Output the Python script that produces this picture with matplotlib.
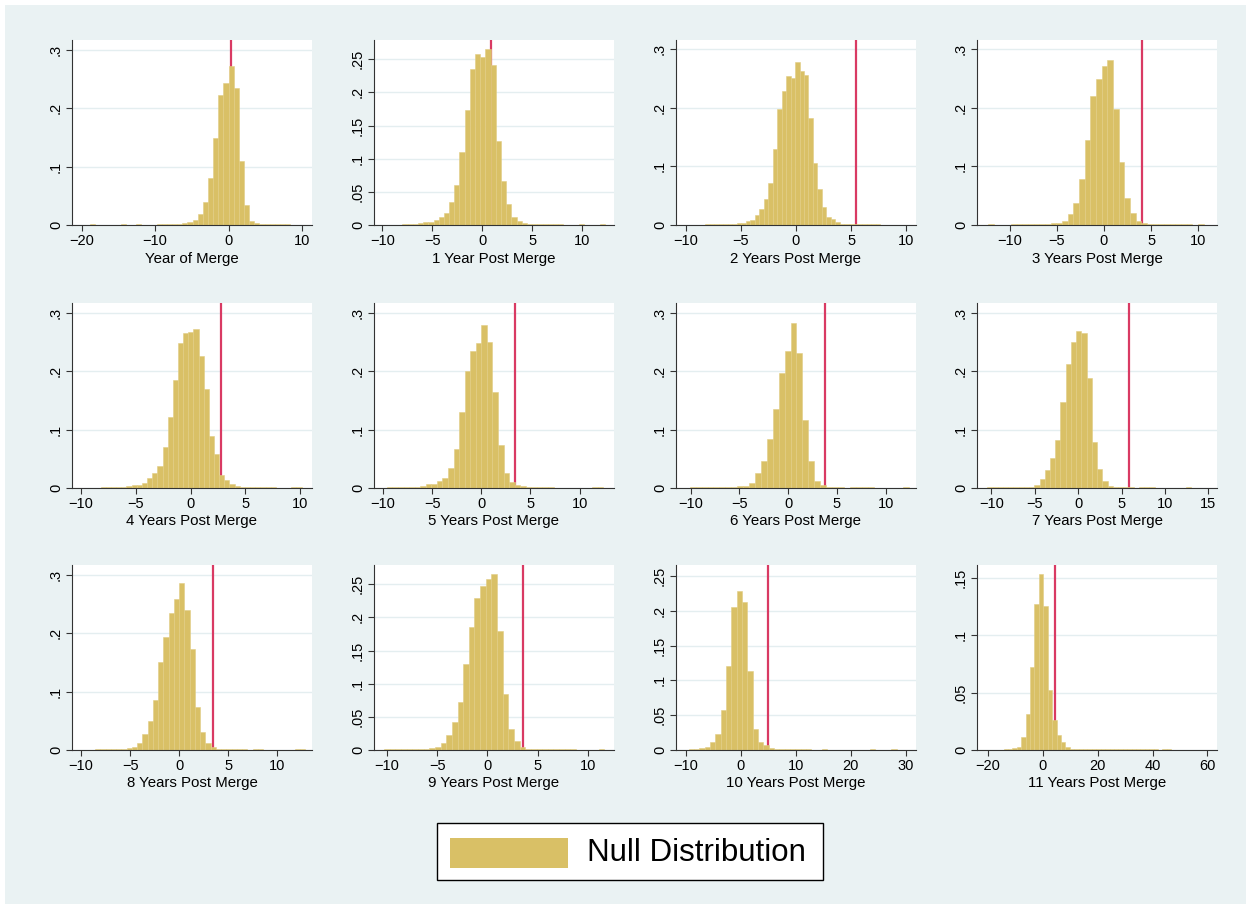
import numpy as np
import matplotlib
matplotlib.use("Agg")
import matplotlib.pyplot as plt
import matplotlib.patches as mpatches

plt.rcParams["font.family"] = ["Liberation Sans", "DejaVu Sans"]

# ── Data: histogram densities ─────────────────────────────────────────────────
LABELS = ["Year of Merge", "1 Year Post Merge", "2 Years Post Merge",
          "3 Years Post Merge", "4 Years Post Merge", "5 Years Post Merge",
          "6 Years Post Merge", "7 Years Post Merge", "8 Years Post Merge",
          "9 Years Post Merge", "10 Years Post Merge", "11 Years Post Merge"]

BIN_START = [-18.9, -8.0, -8.24, -12.25, -8.2, -9.605,
             -10.1, -10.46, -8.56, -10.25, -9.53, -14.33]
BIN_WIDTH = [0.70, 0.52, 0.4076, 0.60, 0.47, 0.565,
             0.608, 0.6016, 0.535, 0.56, 0.971, 1.61]

OBSERVED = [0.27, 0.84, 5.42, 4.05, 2.80, 3.40, 3.79, 5.85, 3.46, 3.49, 4.92, 4.48]

H0 = [0.0015, 0, 0, 0, 0, 0, 0.0015, 0, 0, 0.0015, 0, 0, 0, 0.0012, 0.0012,
      0.0015, 0.0015, 0.002, 0.003, 0.0046, 0.0086, 0.018, 0.039, 0.081, 0.149,
      0.222, 0.243, 0.273, 0.234, 0.109, 0.035, 0.0063, 0.004, 0.002, 0.0015,
      0.0012, 0.0015, 0.0015, 0.0015]
H1 = [0.0015, 0.0015, 0.002, 0.003, 0.004, 0.005, 0.008, 0.012, 0.018, 0.034,
      0.060, 0.110, 0.174, 0.235, 0.258, 0.254, 0.265, 0.241, 0.126, 0.067,
      0.031, 0.0126, 0.0056, 0.003, 0.002, 0.0015, 0.0015, 0.0015, 0.0015,
      0.0015, 0.0015, 0, 0, 0, 0.0015, 0, 0, 0, 0.0015]
H2 = [0.0015, 0.0015, 0.0015, 0.0015, 0.002, 0.002, 0.0025, 0.003, 0.004,
      0.006, 0.0086, 0.017, 0.027, 0.044, 0.071, 0.130, 0.197, 0.229, 0.253,
      0.251, 0.277, 0.262, 0.255, 0.183, 0.106, 0.061, 0.031, 0.014, 0.0097,
      0.0046, 0.002, 0.002, 0.0015, 0.0015, 0.0015, 0.0015, 0.0015, 0.0015,
      0.0015]
H3 = [0.0012, 0, 0, 0, 0.0012, 0.0012, 0.0012, 0.0012, 0.0012, 0.0015, 0.002,
      0.003, 0.004, 0.0074, 0.018, 0.037, 0.078, 0.144, 0.220, 0.249, 0.270,
      0.281, 0.197, 0.108, 0.046, 0.020, 0.0069, 0.004, 0.002, 0.0015, 0.0012,
      0.0012, 0.0012, 0.0012, 0.0012, 0.0012, 0, 0.0012, 0]
H4 = [0.002, 0.002, 0.002, 0.002, 0.002, 0.003, 0.0046, 0.0057, 0.009, 0.017,
      0.025, 0.037, 0.070, 0.122, 0.185, 0.249, 0.266, 0.268, 0.272, 0.227,
      0.169, 0.089, 0.059, 0.023, 0.013, 0.0063, 0.0034, 0.002, 0.002, 0.0015,
      0.0015, 0.0015, 0.0015, 0.0015, 0, 0, 0, 0.0015, 0.0015, 0]
H5 = [0.0015, 0.0015, 0.0015, 0.002, 0.002, 0.002, 0.004, 0.006, 0.006, 0.0126,
      0.017, 0.034, 0.067, 0.131, 0.200, 0.234, 0.249, 0.279, 0.251, 0.165,
      0.074, 0.026, 0.0103, 0.0046, 0.0034, 0.002, 0.002, 0.0015, 0.0015,
      0.0015, 0, 0, 0, 0, 0, 0, 0, 0.0015, 0.0015]
H6 = [0.0012, 0.0012, 0.0015, 0.0015, 0.0015, 0.0015, 0.002, 0.002, 0.003,
      0.0034, 0.009, 0.025, 0.046, 0.084, 0.135, 0.197, 0.234, 0.282, 0.231,
      0.116, 0.046, 0.0126, 0.0057, 0.002, 0.0015, 0.0012, 0, 0.0012, 0.0012,
      0.0012, 0.0012, 0, 0, 0, 0, 0, 0.0012, 0]
H7 = [0.0012, 0.0012, 0.0012, 0.0015, 0.0015, 0.0015, 0.0015, 0.0015, 0.0017,
      0.0057, 0.015, 0.030, 0.051, 0.083, 0.147, 0.212, 0.250, 0.269, 0.265,
      0.189, 0.078, 0.032, 0.0114, 0.004, 0.002, 0.0015, 0.0012, 0.0012, 0,
      0.0012, 0.0012, 0.0012, 0, 0, 0, 0, 0, 0, 0.0012]
H8 = [0.0015, 0.0015, 0.0015, 0.0015, 0.002, 0.002, 0.003, 0.0057, 0.0126,
      0.027, 0.050, 0.085, 0.150, 0.193, 0.235, 0.259, 0.286, 0.240, 0.173,
      0.074, 0.030, 0.0126, 0.0046, 0.002, 0.0015, 0.0015, 0.0015, 0.0015,
      0.0015, 0, 0.0012, 0.0012, 0, 0, 0, 0, 0, 0, 0.0012, 0.0012]
H9 = [0.0015, 0.0015, 0.0015, 0.0015, 0.0015, 0.0015, 0.0015, 0.0015, 0.0025,
      0.0045, 0.011, 0.023, 0.042, 0.073, 0.130, 0.185, 0.229, 0.248, 0.258,
      0.265, 0.179, 0.084, 0.032, 0.0136, 0.005, 0.0015, 0.0015, 0.0015,
      0.0015, 0.0015, 0.0015, 0.0015, 0.0015, 0.0015, 0, 0, 0, 0, 0.0015]
H10 = [0.0015, 0.0015, 0.0024, 0.0048, 0.012, 0.023, 0.057, 0.120, 0.206,
       0.229, 0.213, 0.113, 0.0295, 0.011, 0.0071, 0.0033, 0.0015, 0.0015,
       0.0015, 0.0015, 0.0015, 0.0015, 0.0015, 0, 0, 0.0015, 0, 0, 0, 0, 0,
       0, 0, 0, 0.0015, 0, 0, 0, 0.0015, 0]
H11 = [0.0006, 0.0008, 0.0015, 0.003, 0.011, 0.031, 0.072, 0.127, 0.153,
       0.125, 0.052, 0.026, 0.013, 0.0067, 0.003, 0.0008, 0.0008, 0.0008,
       0.0008, 0.0008, 0.0008, 0.0008, 0.0008, 0.0008, 0.0008, 0.0008, 0.0008,
       0.0008, 0.0008, 0.0008, 0.0008, 0.0008, 0.0008, 0.0008, 0.0006, 0,
       0.0008, 0.0008]
HEIGHTS = [H0, H1, H2, H3, H4, H5, H6, H7, H8, H9, H10, H11]

XLIMS = [(-21.32, 11.36), (-10.84, 13.19), (-10.9, 10.9), (-13.45, 11.97),
         (-10.82, 11.08), (-10.92, 13.5), (-11.51, 13.1), (-11.65, 15.98),
         (-10.92, 13.53), (-11.26, 12.56), (-11.82, 31.88), (-24.0, 63.5)]
XTICKS = [[-20, -10, 0, 10], [-10, -5, 0, 5, 10], [-10, -5, 0, 5, 10],
          [-10, -5, 0, 5, 10], [-10, -5, 0, 5, 10], [-10, -5, 0, 5, 10],
          [-10, -5, 0, 5, 10], [-10, -5, 0, 5, 10, 15], [-10, -5, 0, 5, 10],
          [-10, -5, 0, 5, 10], [-10, 0, 10, 20, 30], [-20, 0, 20, 40, 60]]
YTOPS = [0.317, 0.279, 0.315, 0.315, 0.317, 0.317, 0.317, 0.317, 0.317,
         0.279, 0.2657, 0.161]
YTICKS = [[0, .1, .2, .3], [0, .05, .1, .15, .2, .25], [0, .1, .2, .3],
          [0, .1, .2, .3], [0, .1, .2, .3], [0, .1, .2, .3], [0, .1, .2, .3],
          [0, .1, .2, .3], [0, .1, .2, .3], [0, .05, .1, .15, .2, .25],
          [0, .05, .1, .15, .2, .25], [0, .05, .1, .15]]

# ── Style ─────────────────────────────────────────────────────────────────────
BG     = "#EAF2F3"
BAR    = "#D9C066"
BAREDG = "#E2CD84"
RED    = "#D93A63"

COL_LEFT = [72, 374, 676, 977]
ROW_TOP  = [40, 303, 565]
AX_W, AX_H = 240, 185
W, H = 1251, 909


def stata_fmt(v):
    if v == 0:
        return "0"
    s = f"{v:.2f}".rstrip("0")
    return s[1:] if s.startswith("0") else s


fig = plt.figure(figsize=(W / 100, H / 100), dpi=100)
fig.patch.set_facecolor("white")
fig.add_artist(mpatches.Rectangle((5 / W, 5 / H), 1 - 10 / W, 1 - 10 / H,
                                  transform=fig.transFigure, facecolor=BG,
                                  edgecolor="none", zorder=-10))

for i in range(12):
    r, c = divmod(i, 4)
    left = COL_LEFT[c] / W
    bottom = 1 - (ROW_TOP[r] + AX_H) / H
    ax = fig.add_axes([left, bottom, AX_W / W, AX_H / H])
    ax.set_facecolor("white")

    h = np.array(HEIGHTS[i])
    edges = BIN_START[i] + BIN_WIDTH[i] * np.arange(len(h))
    ax.axvline(OBSERVED[i], color=RED, lw=1.6, zorder=1)
    ax.bar(edges, h, width=BIN_WIDTH[i], align="edge", color=BAR,
           edgecolor=BAREDG, linewidth=0.4, zorder=2)

    ax.set_xlim(*XLIMS[i])
    ax.set_ylim(0, YTOPS[i])
    ax.set_xticks(XTICKS[i])
    ax.set_yticks(YTICKS[i])
    ax.set_yticklabels([stata_fmt(v) for v in YTICKS[i]], rotation=90,
                       va="center")
    ax.yaxis.grid(True, color="#E4EEF0", lw=1.0, zorder=0)
    ax.set_axisbelow(True)
    for s in ("top", "right"):
        ax.spines[s].set_visible(False)
    for s in ("left", "bottom"):
        ax.spines[s].set_color("#333333")
        ax.spines[s].set_linewidth(0.8)
    ax.tick_params(axis="both", direction="out", length=4, width=0.8,
                   color="#333333", labelsize=10.5, pad=2.5)
    ax.set_xlabel(LABELS[i], fontsize=10.8, labelpad=2.5)

# ── Legend ────────────────────────────────────────────────────────────────────
fig.add_artist(mpatches.Rectangle((437 / W, 1 - 880 / H), 386 / W, 57 / H,
                                  transform=fig.transFigure, facecolor="white",
                                  edgecolor="black", linewidth=1.0))
fig.add_artist(mpatches.Rectangle((450 / W, 1 - 868 / H), 118 / W, 30 / H,
                                  transform=fig.transFigure, facecolor=BAR,
                                  edgecolor="none"))
fig.text(587 / W, 1 - 853 / H, "Null Distribution", fontsize=22.5,
         va="center", ha="left")

fig.savefig("out.png", dpi=100, facecolor=fig.get_facecolor())
